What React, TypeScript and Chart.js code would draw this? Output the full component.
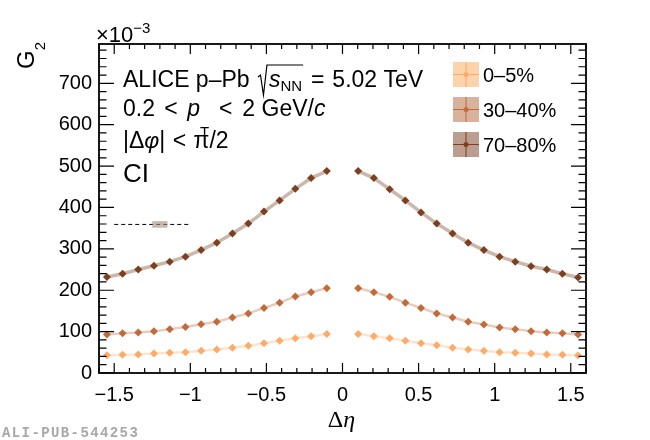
import { useEffect, useRef } from "react";
import { Chart, registerables } from "chart.js";

Chart.register(...registerables);

// bin centres in |Δη| (31 bins over [-1.6, 1.6], central bin removed)
const etaBins = [0.103, 0.206, 0.31, 0.413, 0.516, 0.619, 0.723, 0.826, 0.929, 1.032, 1.135, 1.239, 1.342, 1.445, 1.548];

// G2 (x10^-3), left side listed from Δη = -1.548 up to -0.103
const c0Left = [43, 44, 45, 47, 49, 50, 54, 57, 61, 66, 72, 78, 84, 89, 94];
const c30Left = [93, 96, 98, 101, 106, 111, 118, 124, 134, 144, 157, 170, 185, 195, 205];
const c70Left = [232, 240, 250, 259, 269, 281, 297, 315, 337, 361, 390, 417, 445, 471, 488];

// right side listed from Δη = 0.103 up to 1.548
const c0Right = [94, 89, 84, 78, 72, 67, 61, 57, 54, 50, 49, 47, 45, 44, 42];
const c30Right = [205, 195, 184, 170, 157, 144, 134, 124, 117, 110, 106, 101, 98, 96, 93];
const c70Right = [488, 471, 444, 417, 388, 361, 337, 315, 297, 281, 269, 258, 250, 240, 231];

const yTicks = [0, 100, 200, 300, 400, 500, 600, 700];

const legendLabels = ["0–5%", "30–40%", "70–80%"];
const markerColors = ["#fdab66", "#c36a3a", "#7e3f1f"];
const bandColors = ["rgba(252,196,150,0.45)", "rgba(205,145,110,0.45)", "rgba(160,125,105,0.55)"];
const legendFills = ["rgba(252,206,162,0.9)", "rgba(212,170,146,0.9)", "rgba(180,148,132,0.9)"];

// reference level shown as dashed line
const refLevel = 359;
const refRange = [-1.5, -1.0];
const refBox = [-1.25, -1.15];
const refErr = 8;

const FONT = '"Liberation Sans", Arial, sans-serif';
const SERIF = '"Liberation Serif", "DejaVu Serif", serif';

function toPoints(left: number[], right: number[]) {
  const pts: { x: number; y: number | null }[] = [];
  left.forEach((v, i) => pts.push({ x: -etaBins[etaBins.length - 1 - i], y: v }));
  pts.push({ x: 0, y: null });
  right.forEach((v, i) => pts.push({ x: etaBins[i], y: v }));
  return pts;
}

type Run = { t: string; f: string; dy?: number; sp?: number };

function drawRuns(ctx: CanvasRenderingContext2D, x: number, y: number, runs: Run[]) {
  let cx = x;
  for (const r of runs) {
    cx += r.sp ?? 0;
    ctx.font = r.f;
    ctx.fillText(r.t, cx, y + (r.dy ?? 0));
    cx += ctx.measureText(r.t).width + (r.sp ?? 0);
  }
  return cx;
}

const framePlugin = {
  id: "rootFrame",
  afterDraw(chart: any) {
    const ctx: CanvasRenderingContext2D = chart.ctx;
    const { left, right, top, bottom } = chart.chartArea;
    const xs = chart.scales.x;
    const ys = chart.scales.y;
    ctx.save();
    ctx.strokeStyle = "#000";
    ctx.lineWidth = 1.8;
    ctx.strokeRect(left, top, right - left, bottom - top);
    ctx.lineWidth = 1.2;
    ctx.beginPath();
    for (let k = -16; k <= 16; k++) {
      const px = xs.getPixelForValue(k / 10);
      const len = k % 5 === 0 ? 10 : 5;
      ctx.moveTo(px, bottom);
      ctx.lineTo(px, bottom - len);
      ctx.moveTo(px, top);
      ctx.lineTo(px, top + len);
    }
    for (let v = 0; v <= 795; v += 20) {
      const py = ys.getPixelForValue(v);
      const len = v % 100 === 0 ? 15 : 7.5;
      ctx.moveTo(left, py);
      ctx.lineTo(left + len, py);
      ctx.moveTo(right, py);
      ctx.lineTo(right - len, py);
    }
    ctx.stroke();

    // reference box
    const bx0 = xs.getPixelForValue(refBox[0]);
    const bx1 = xs.getPixelForValue(refBox[1]);
    const by0 = ys.getPixelForValue(refLevel + refErr);
    const by1 = ys.getPixelForValue(refLevel - refErr);
    ctx.fillStyle = "rgba(165,140,125,0.6)";
    ctx.fillRect(bx0, by0, bx1 - bx0, by1 - by0);

    ctx.fillStyle = "#000";
    ctx.textBaseline = "alphabetic";
    ctx.textAlign = "left";

    // axis multiplier
    drawRuns(ctx, 96, 42, [
      { t: "×10", f: `22px ${FONT}` },
      { t: "−3", f: `15px ${FONT}`, dy: -9 },
    ]);

    // y title
    ctx.save();
    ctx.translate(34, 42);
    ctx.rotate(-Math.PI / 2);
    ctx.textAlign = "right";
    ctx.font = `15px ${FONT}`;
    ctx.fillText("2", 0, 11);
    const w2 = ctx.measureText("2").width;
    ctx.font = `24px ${FONT}`;
    ctx.fillText("G", -w2, 0);
    ctx.restore();

    // x title
    ctx.font = `24px ${SERIF}`;
    const dW = ctx.measureText("Δ").width;
    ctx.font = `italic 24px ${SERIF}`;
    const eW = ctx.measureText("η").width;
    const tx = (left + right) / 2 - (dW + eW) / 2 - 1;
    drawRuns(ctx, tx, 427, [
      { t: "Δ", f: `24px ${SERIF}` },
      { t: "η", f: `italic 24px ${SERIF}` },
    ]);

    // text block
    const f23 = `23px ${FONT}`;
    const i23 = `italic 23px ${FONT}`;
    const f15 = `15px ${FONT}`;
    const tx0 = 123;
    const cx = drawRuns(ctx, tx0, 87, [{ t: "ALICE p–Pb ", f: f23 }]);
    const rx = cx + 2;
    const sEnd = drawRuns(ctx, rx + 11, 87, [
      { t: "s", f: i23 },
      { t: "NN", f: f15, dy: 4 },
    ]);
    ctx.lineWidth = 1.2;
    ctx.beginPath();
    ctx.moveTo(rx, 77);
    ctx.lineTo(rx + 2.5, 75);
    ctx.lineTo(rx + 5.5, 95);
    ctx.lineTo(rx + 9, 65);
    ctx.lineTo(sEnd + 1, 65);
    ctx.stroke();
    drawRuns(ctx, sEnd + 1, 87, [
      { t: " ", f: f23 },
      { t: "=", f: f23, sp: 1.5 },
      { t: " 5.02 TeV", f: f23 },
    ]);

    drawRuns(ctx, tx0, 116, [
      { t: "0.2 ", f: f23 },
      { t: "<", f: f23, sp: 3 },
      { t: " ", f: f23 },
      { t: "p", f: i23 },
      { t: "T", f: f15, dy: 21 },
      { t: " ", f: f23 },
      { t: "<", f: f23, sp: 3.5 },
      { t: " 2 GeV/", f: f23 },
      { t: "c", f: i23 },
    ]);
    drawRuns(ctx, tx0, 148, [
      { t: "|Δ", f: f23 },
      { t: "φ", f: i23 },
      { t: "| ", f: f23 },
      { t: "<", f: f23, sp: 1 },
      { t: " π/2", f: f23 },
    ]);
    drawRuns(ctx, tx0, 182, [{ t: "CI", f: `26px ${FONT}` }]);

    // legend
    const lx = 453;
    const lw = 26;
    const rowY = [74.5, 109.5, 144.5];
    legendLabels.forEach((lab, i) => {
      const cy = rowY[i];
      ctx.fillStyle = legendFills[i];
      ctx.fillRect(lx, cy - 12.5, lw, 25);
      ctx.strokeStyle = markerColors[i];
      ctx.lineWidth = 1;
      ctx.beginPath();
      ctx.moveTo(lx, cy);
      ctx.lineTo(lx + lw, cy);
      ctx.moveTo(lx + lw / 2, cy - 12.5);
      ctx.lineTo(lx + lw / 2, cy + 12.5);
      ctx.stroke();
      ctx.fillStyle = markerColors[i];
      ctx.beginPath();
      ctx.arc(lx + lw / 2, cy, 2.5, 0, Math.PI * 2);
      ctx.fill();
      ctx.fillStyle = "#000";
      ctx.font = `20px ${FONT}`;
      ctx.fillText(lab, 483, cy + 7);
    });

    // publication id
    ctx.fillStyle = "#a8a8a8";
    ctx.font = `bold 14px "Liberation Mono", "DejaVu Sans Mono", monospace`;
    (ctx as any).letterSpacing = "1.4px";
    ctx.fillText("ALI-PUB-544253", 2, 437);
    ctx.restore();
  },
};

export default function App() {
  const canvasRef = useRef<HTMLCanvasElement>(null);
  const chartRef = useRef<Chart | null>(null);

  useEffect(() => {
    if (!canvasRef.current) return;
    if (chartRef.current) chartRef.current.destroy();

    const series = [
      toPoints(c0Left, c0Right),
      toPoints(c30Left, c30Right),
      toPoints(c70Left, c70Right),
    ];

    chartRef.current = new Chart(canvasRef.current, {
      type: "scatter",
      data: {
        datasets: [
          {
            label: "ref",
            data: refRange.map((x) => ({ x, y: refLevel })),
            showLine: true,
            borderColor: "#000",
            borderWidth: 1,
            borderDash: [4, 3],
            pointRadius: 0,
          },
          ...series.map((pts, i) => ({
            label: legendLabels[i],
            data: pts,
            showLine: true,
            spanGaps: false,
            borderColor: bandColors[i],
            borderWidth: i === 2 ? 3.5 : 2.5,
            pointStyle: "rectRot" as const,
            pointRadius: 4,
            pointBackgroundColor: markerColors[i],
            pointBorderColor: markerColors[i],
            pointBorderWidth: 0,
          })),
        ],
      },
      options: {
        responsive: false,
        animation: false,
        layout: { padding: { top: 44, right: 64, left: 0, bottom: 0 } },
        plugins: {
          legend: { display: false },
          tooltip: { enabled: false },
        },
        scales: {
          x: {
            type: "linear",
            min: -1.6,
            max: 1.6,
            grid: { display: false, drawTicks: false },
            border: { display: false },
            ticks: {
              stepSize: 0.5,
              includeBounds: false,
              padding: 10,
              color: "#000",
              font: { family: FONT, size: 20 },
              maxRotation: 0,
              callback: (v: any) => (Number(v) < 0 ? "\u2212" : "") + Math.abs(Number(v)),
            },
            afterFit: (s: any) => {
              s.height = 67;
            },
          },
          y: {
            type: "linear",
            min: 0,
            max: 795,
            grid: { display: false, drawTicks: false },
            border: { display: false },
            ticks: {
              padding: 7,
              color: "#000",
              font: { family: FONT, size: 20 },
            },
            afterBuildTicks: (s: any) => {
              s.ticks = yTicks.map((value) => ({ value }));
            },
            afterFit: (s: any) => {
              s.width = 99;
            },
          },
        },
      },
      plugins: [framePlugin],
    });

    return () => {
      if (chartRef.current) {
        chartRef.current.destroy();
        chartRef.current = null;
      }
    };
  }, []);

  return (
    <div style={{ position: "fixed", left: 0, top: 0, width: 650, height: 440, background: "#fff" }}>
      <canvas ref={canvasRef} width={650} height={440} />
    </div>
  );
}
